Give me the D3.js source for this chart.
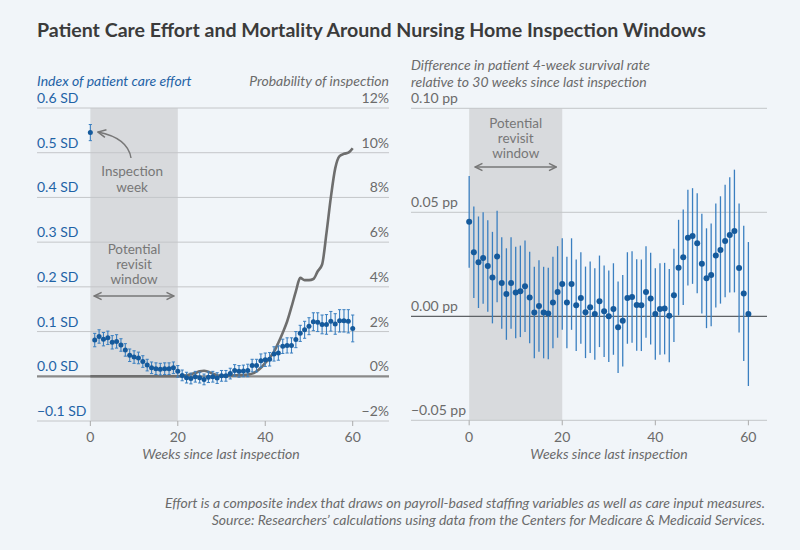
<!DOCTYPE html>
<html>
<head>
<meta charset="utf-8">
<script src="https://cdn.jsdelivr.net/npm/d3@7"></script>
<style>
  body { margin: 0; background: #f1f5f9; }
  svg { font-family: Lato, "Open Sans", sans-serif; }
  .tick-g { fill: #6b6b6b; font-size: 14px; }
  .tick-b { fill: #1f63a6; font-size: 14px; }
  .ital { font-style: italic; }
  .note { fill: #777; font-size: 13.5px; }
</style>
</head>
<body>
<svg id="chart" width="800" height="550"></svg>
<script>
// ---- data ----
var weeks = d3.range(0, 61);
// left panel: index of patient care effort (SD), week 0..60
var effort = [0.545, 0.081, 0.089, 0.083, 0.086, 0.076, 0.078, 0.070, 0.059, 0.047, 0.043,
  0.041, 0.033, 0.025, 0.019, 0.017, 0.016, 0.017, 0.017, 0.019, 0.011,
  0.002, -0.003, -0.005, -0.001, -0.003, -0.007, -0.002, -0.001, -0.004, 0.001,
  0.001, 0.006, 0.013, 0.011, 0.012, 0.013, 0.024, 0.024, 0.035, 0.037,
  0.038, 0.050, 0.052, 0.067, 0.069, 0.069, 0.082, 0.096, 0.104, 0.112,
  0.122, 0.121, 0.116, 0.116, 0.123, 0.117, 0.124, 0.124, 0.123, 0.107];
var effortErr = [0.018, 0.015, 0.015, 0.015, 0.015, 0.015, 0.015, 0.014, 0.014, 0.014, 0.014,
  0.013, 0.013, 0.013, 0.013, 0.013, 0.013, 0.013, 0.013, 0.013, 0.013,
  0.012, 0.012, 0.012, 0.012, 0.012, 0.012, 0.012, 0.012, 0.012, 0.012,
  0.012, 0.012, 0.013, 0.013, 0.013, 0.014, 0.014, 0.014, 0.015, 0.015,
  0.015, 0.016, 0.016, 0.016, 0.017, 0.017, 0.018, 0.018, 0.019, 0.019,
  0.020, 0.021, 0.021, 0.022, 0.022, 0.023, 0.025, 0.025, 0.026, 0.030];
// left panel: probability of inspection (%), week 0..60
var probInspect = [0, 0, 0, 0, 0, 0, 0, 0, 0, 0, 0,
  0, 0, 0, 0, 0, 0, 0, 0, 0, 0,
  0.02, 0.05, 0.10, 0.15, 0.22, 0.25, 0.20, 0.12, 0.05, 0.02,
  0.02, 0.03, 0.04, 0.05, 0.06, 0.08, 0.12, 0.22, 0.38, 0.60,
  0.82, 1.10, 1.50, 1.95, 2.45, 3.10, 3.80, 4.40, 4.30, 4.30,
  4.35, 4.70, 5.00, 6.40, 8.00, 9.30, 9.85, 9.95, 10.0, 10.2];
// right panel: difference in 4-week survival rate (pp), week 0..60
var survival = [0.0454, 0.0308, 0.0260, 0.0280, 0.0242, 0.0186, 0.0288, 0.0160, 0.0107, 0.0160, 0.0114,
  0.0120, 0.0144, 0.0090, 0.0018, 0.0050, 0.0018, 0.0013, 0.0066, 0.0117, 0.0155,
  0.0066, 0.0155, 0.0053, 0.0088, 0.0019, 0.0043, 0.0011, 0.0072, 0.0024, 0.0000,
  0.0035, -0.0053, -0.0021, 0.0088, 0.0093, 0.0054, 0.0053, 0.0117, 0.0085, 0.0011,
  0.0035, 0.0037, 0.0003, 0.0101, 0.0234, 0.0284, 0.0378, 0.0386, 0.0351, 0.0253,
  0.0183, 0.0199, 0.0292, 0.0319, 0.0362, 0.0391, 0.0410, 0.0232, 0.0110, 0.0011];
var survivalErr = [0.022, 0.022, 0.022, 0.022, 0.022, 0.022, 0.022, 0.022, 0.022, 0.022, 0.022,
  0.022, 0.022, 0.022, 0.022, 0.022, 0.022, 0.022, 0.022, 0.022, 0.022,
  0.022, 0.022, 0.022, 0.022, 0.022, 0.022, 0.022, 0.022, 0.022, 0.022,
  0.022, 0.022, 0.022, 0.022, 0.022, 0.022, 0.022, 0.022, 0.022, 0.022,
  0.022, 0.022, 0.0224, 0.0224, 0.023, 0.023, 0.023, 0.023, 0.024, 0.024,
  0.024, 0.0247, 0.025, 0.0258, 0.027, 0.0277, 0.0295, 0.031, 0.0325, 0.0346];
var effortTicks = [-0.1, 0, 0.1, 0.2, 0.3, 0.4, 0.5, 0.6];
var probTicks = [-2, 0, 2, 4, 6, 8, 10, 12];
var survTicks = [-0.05, 0, 0.05, 0.10];
var weekTicks = [0, 20, 40, 60];
var revisitWindow = [0, 20];

var blueDot = "#155a9c", blueBar = "#3a7fc0";

var svg = d3.select("#chart");
svg.append("rect").attr("width", 800).attr("height", 550).attr("fill", "#f1f5f9");

var defs = svg.append("defs");
defs.append("marker").attr("id", "ah").attr("viewBox", "0 0 10 10")
  .attr("refX", 9).attr("refY", 5).attr("markerWidth", 7).attr("markerHeight", 7)
  .attr("orient", "auto-start-reverse")
  .append("path").attr("d", "M1,1 L9,5 L1,9").attr("fill", "none")
  .attr("stroke", "#777").attr("stroke-width", 1.6);

svg.append("text").attr("x", 37).attr("y", 37)
  .attr("font-size", 19.6).attr("font-weight", "bold").attr("fill", "#3b3b3b")
  .text("Patient Care Effort and Mortality Around Nursing Home Inspection Windows");

// multi-line label as one text element
function multiline(g, x, y, lines, dy) {
  var t = g.append("text").attr("class", "note").attr("text-anchor", "middle");
  lines.forEach(function (s, i) {
    t.append("tspan").attr("x", x).attr("y", y + i * dy).text(s);
  });
}

// ---------- left panel ----------
var xL = d3.scaleLinear().domain([-12.2, 68.3]).range([37, 389]);
var yL = d3.scaleLinear().domain([-0.1, 0.6]).range([421, 108]);
var yP = d3.scaleLinear().domain([-2, 12]).range([421, 108]);

var L = svg.append("g");
L.append("rect").attr("x", xL(revisitWindow[0])).attr("y", yL(0.6))
  .attr("width", xL(revisitWindow[1]) - xL(revisitWindow[0]))
  .attr("height", yL(-0.1) - yL(0.6)).attr("fill", "#d8dadd");

effortTicks.forEach(function (t, i) {
  var isZero = t === 0;
  L.append("line").attr("x1", xL.range()[0]).attr("x2", xL.range()[1])
    .attr("y1", yL(t)).attr("y2", yL(t))
    .attr("stroke", isZero ? "#8a8a8a" : "#c4c6c9").attr("stroke-width", isZero ? 2.2 : 1);
  L.append("text").attr("class", "tick-b").attr("x", 37).attr("y", yL(t) - 5)
    .text((t < 0 ? "\u22120.1" : t.toFixed(1)) + " SD");
  var p = probTicks[i];
  L.append("text").attr("class", "tick-g").attr("x", 389).attr("y", yP(p) - 5)
    .attr("text-anchor", "end").text((p < 0 ? "\u2212" + (-p) : p) + "%");
});

weekTicks.forEach(function (t) {
  L.append("line").attr("x1", xL(t)).attr("x2", xL(t)).attr("y1", yL(-0.1)).attr("y2", yL(-0.1) + 5)
    .attr("stroke", "#aaa");
  L.append("text").attr("class", "tick-g").attr("x", xL(t)).attr("y", 442)
    .attr("text-anchor", "middle").text(t);
});
L.append("text").attr("class", "tick-g ital").attr("x", 221).attr("y", 459)
  .attr("text-anchor", "middle").text("Weeks since last inspection");
L.append("text").attr("class", "tick-b ital").attr("x", 37).attr("y", 86)
  .text("Index of patient care effort");
L.append("text").attr("class", "tick-g ital").attr("x", 389).attr("y", 86)
  .attr("text-anchor", "end").text("Probability of inspection");

// probability line
L.append("path").datum(weeks)
  .attr("d", d3.line().x(function (w) { return xL(w); }).y(function (w) { return yP(probInspect[w]); })
    .curve(d3.curveMonotoneX))
  .attr("fill", "none").attr("stroke", "#6e6e6e").attr("stroke-width", 2.6);

// error bars + dots
var eb = L.selectAll("g.eb").data(weeks).enter().append("g");
eb.append("line").attr("x1", function (w) { return xL(w); }).attr("x2", function (w) { return xL(w); })
  .attr("y1", function (w) { return yL(effort[w] - effortErr[w]); })
  .attr("y2", function (w) { return yL(effort[w] + effortErr[w]); })
  .attr("stroke", blueBar).attr("stroke-width", 1.1);
[-1, 1].forEach(function (s) {
  eb.append("line").attr("x1", function (w) { return xL(w) - 1.6; }).attr("x2", function (w) { return xL(w) + 1.6; })
    .attr("y1", function (w) { return yL(effort[w] + s * effortErr[w]); })
    .attr("y2", function (w) { return yL(effort[w] + s * effortErr[w]); })
    .attr("stroke", blueBar).attr("stroke-width", 1);
});
eb.append("circle").attr("cx", function (w) { return xL(w); }).attr("cy", function (w) { return yL(effort[w]); })
  .attr("r", 2.5).attr("fill", blueDot);

// annotations
var cx = (xL(revisitWindow[0]) + xL(revisitWindow[1])) / 2;
multiline(L, cx - 2, 176, ["Inspection", "week"], 15.5);
L.append("path").attr("d", "M131,158 Q128,138 98,132").attr("fill", "none")
  .attr("stroke", "#777").attr("stroke-width", 1.4).attr("marker-end", "url(#ah)");
multiline(L, cx, 254, ["Potential", "revisit", "window"], 15);
L.append("line").attr("x1", xL(revisitWindow[0]) + 4).attr("x2", xL(revisitWindow[1]) - 4)
  .attr("y1", 296).attr("y2", 296).attr("stroke", "#777").attr("stroke-width", 1.3)
  .attr("marker-start", "url(#ah)").attr("marker-end", "url(#ah)");

// ---------- right panel ----------
var xR = d3.scaleLinear().domain([-12.5, 64]).range([411, 767]);
var yR = d3.scaleLinear().domain([-0.05, 0.10]).range([420.3, 108.3]);
var R = svg.append("g");
R.append("rect").attr("x", xR(revisitWindow[0])).attr("y", yR(0.10))
  .attr("width", xR(revisitWindow[1]) - xR(revisitWindow[0]))
  .attr("height", yR(-0.05) - yR(0.10)).attr("fill", "#d8dadd");
survTicks.forEach(function (t) {
  var isZero = t === 0;
  R.append("line").attr("x1", xR.range()[0]).attr("x2", xR.range()[1])
    .attr("y1", yR(t)).attr("y2", yR(t))
    .attr("stroke", isZero ? "#5e6266" : "#c4c6c9").attr("stroke-width", isZero ? 1.2 : 1);
  R.append("text").attr("class", "tick-g").attr("x", 411).attr("y", yR(t) - 5)
    .text((t < 0 ? "\u22120.05" : t.toFixed(2)) + " pp");
});
weekTicks.forEach(function (t) {
  R.append("line").attr("x1", xR(t)).attr("x2", xR(t)).attr("y1", yR(-0.05)).attr("y2", yR(-0.05) + 5)
    .attr("stroke", "#aaa");
  R.append("text").attr("class", "tick-g").attr("x", xR(t)).attr("y", 442)
    .attr("text-anchor", "middle").text(t);
});
R.append("text").attr("class", "tick-g ital").attr("x", 609).attr("y", 459)
  .attr("text-anchor", "middle").text("Weeks since last inspection");
var rt = R.append("text").attr("class", "tick-g ital");
rt.append("tspan").attr("x", 411).attr("y", 70).text("Difference in patient 4-week survival rate");
rt.append("tspan").attr("x", 411).attr("y", 86.5).text("relative to 30 weeks since last inspection");

var rb = R.selectAll("g.rb").data(weeks).enter().append("g");
rb.append("line").attr("x1", function (w) { return xR(w); }).attr("x2", function (w) { return xR(w); })
  .attr("y1", function (w) { return yR(survival[w] - survivalErr[w]); })
  .attr("y2", function (w) { return yR(survival[w] + survivalErr[w]); })
  .attr("stroke", blueBar).attr("stroke-width", 1.3);
rb.append("circle").attr("cx", function (w) { return xR(w); }).attr("cy", function (w) { return yR(survival[w]); })
  .attr("r", 3).attr("fill", blueDot);

var cxr = (xR(revisitWindow[0]) + xR(revisitWindow[1])) / 2;
multiline(R, cxr, 128, ["Potential", "revisit", "window"], 15);
R.append("line").attr("x1", xR(revisitWindow[0]) + 6).attr("x2", xR(revisitWindow[1]) - 6)
  .attr("y1", 167).attr("y2", 167).attr("stroke", "#777").attr("stroke-width", 1.3)
  .attr("marker-start", "url(#ah)").attr("marker-end", "url(#ah)");

// footnotes
var fn = svg.append("text").attr("class", "tick-g ital").attr("text-anchor", "end").attr("font-size", 12.5);
fn.append("tspan").attr("x", 765).attr("y", 508)
  .text("Effort is a composite index that draws on payroll-based staffing variables as well as care input measures.");
fn.append("tspan").attr("x", 765).attr("y", 524.5)
  .text("Source: Researchers\u2019 calculations using data from the Centers for Medicare & Medicaid Services.");
</script>
</body>
</html>
